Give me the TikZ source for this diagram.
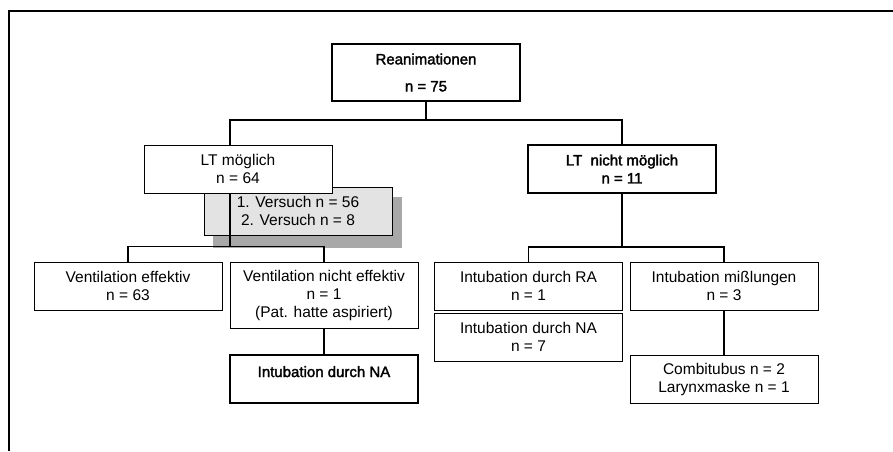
\documentclass[tikz,border=0pt]{standalone}
\usepackage{fontspec}
\setmainfont{Liberation Sans}
\newfontfamily\heavyfont{Liberation Sans}[FakeBold=2]
\usepackage{tikz}

\begin{document}
\begin{tikzpicture}[x=1pt,y=-1pt,
    box/.style={draw,line width=0.9pt,fill=white,minimum width=188pt,minimum height=48pt,
      inner sep=0pt,align=center,font=\fontsize{15.5}{18}\selectfont},
    heavybox/.style={box,line width=1.8pt,font=\fontsize{15}{18}\heavyfont},
    link/.style={line width=1.2pt}]
   \useasboundingbox (0,0) rectangle (893,451);
   \draw[link] (9,451) |- (893,11);

   \node[heavybox,minimum height=57pt] (reani) at (426,72.5) {Reanimationen\\[9pt]n = 75};

   % left branch
   \node[fill=black!34,minimum width=189pt,minimum height=51pt] (shadow) at (307.5,222.5) {};
   \node[box,fill=black!11] (versuch) at (298,211) {1. Versuch n = 56\\2. Versuch n = 8};
   \node[box] (ltja) at (238,169) {LT möglich\\n = 64};
   \node[box] (venteff) at (128,286) {Ventilation effektiv\\n = 63};
   \node[box,minimum height=66pt] (ventnicht) at (324,295) {Ventilation nicht effektiv\\n = 1\\(Pat. hatte aspiriert)};
   \node[heavybox,text height=11pt,text depth=15pt] (intna1) at (324,379) {Intubation durch NA};

   % right branch
   \node[heavybox] (ltnein) at (622,169) {LT\ \ nicht möglich\\n = 11};
   \node[box] (intra) at (528.5,286) {Intubation durch RA\\n = 1};
   \node[box] (intna2) at (528.5,337) {Intubation durch NA\\n = 7};
   \node[box] (misslungen) at (724,286) {Intubation mißlungen\\n = 3};
   \node[box] (combi) at (724,379) {Combitubus n = 2\\Larynxmaske n = 1};

   \draw[link] (reani.south) -- ++(0,18) -| ([xshift=-8pt]ltja.north);
   \draw[link] (reani.south) -- ++(0,18) -| (ltnein.north);
   \draw[link] ([xshift=-8pt]ltja.south) -- ++(0,53) -| (venteff.north);
   \draw[link] ([xshift=-8pt]ltja.south) -- ++(0,53) -| (ventnicht.north);
   \draw[link] (ltnein.south) -- ++(0,53) -| (intra.north);
   \draw[link] (ltnein.south) -- ++(0,53) -| (misslungen.north);
   \draw[link] (ventnicht.south) -- (intna1.north);
   \draw[link] (misslungen.south) -- (combi.north);
\end{tikzpicture}
\end{document}
